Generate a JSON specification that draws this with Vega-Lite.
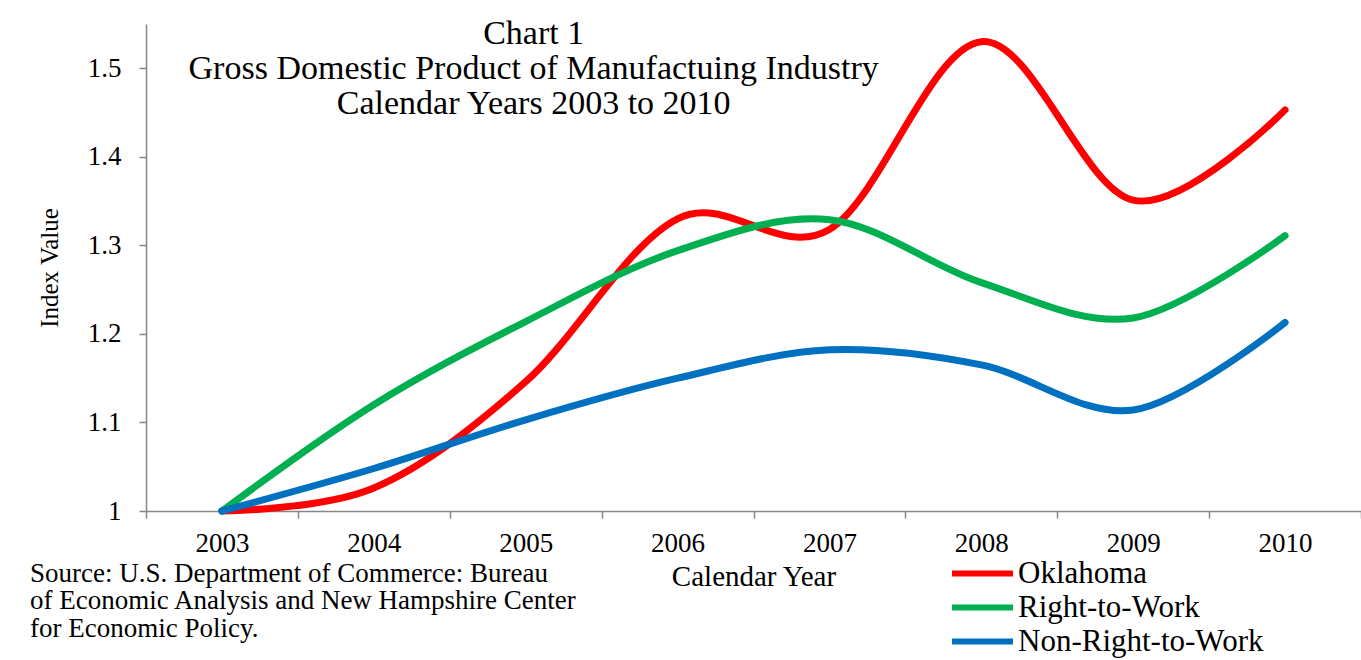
{
  "$schema": "https://vega.github.io/schema/vega-lite/v6.json",
  "width": 1215,
  "height": 487,
  "autosize": {"type": "none"},
  "padding": {"left": 146, "top": 24, "right": 0, "bottom": 149},
  "background": "white",
  "config": {"view": {"stroke": null}, "font": "Liberation Serif"},
  "layer": [
    {
      "data": {
        "values": [
          {"series": "Oklahoma", "year": "2003", "value": 1.0},
          {"series": "Oklahoma", "year": "2004", "value": 1.026},
          {"series": "Oklahoma", "year": "2005", "value": 1.146},
          {"series": "Oklahoma", "year": "2006", "value": 1.33},
          {"series": "Oklahoma", "year": "2007", "value": 1.318},
          {"series": "Oklahoma", "year": "2008", "value": 1.53},
          {"series": "Oklahoma", "year": "2009", "value": 1.351},
          {"series": "Oklahoma", "year": "2010", "value": 1.453},
          {"series": "Right-to-Work", "year": "2003", "value": 1.0},
          {"series": "Right-to-Work", "year": "2004", "value": 1.12},
          {"series": "Right-to-Work", "year": "2005", "value": 1.214},
          {"series": "Right-to-Work", "year": "2006", "value": 1.294},
          {"series": "Right-to-Work", "year": "2007", "value": 1.329},
          {"series": "Right-to-Work", "year": "2008", "value": 1.258},
          {"series": "Right-to-Work", "year": "2009", "value": 1.218},
          {"series": "Right-to-Work", "year": "2010", "value": 1.311},
          {"series": "Non-Right-to-Work", "year": "2003", "value": 1.0},
          {"series": "Non-Right-to-Work", "year": "2004", "value": 1.048},
          {"series": "Non-Right-to-Work", "year": "2005", "value": 1.103},
          {"series": "Non-Right-to-Work", "year": "2006", "value": 1.15},
          {"series": "Non-Right-to-Work", "year": "2007", "value": 1.182},
          {"series": "Non-Right-to-Work", "year": "2008", "value": 1.165},
          {"series": "Non-Right-to-Work", "year": "2009", "value": 1.114},
          {"series": "Non-Right-to-Work", "year": "2010", "value": 1.213}
        ]
      },
      "mark": {"type": "line", "interpolate": "cardinal", "tension": 0, "strokeWidth": 7, "strokeCap": "round", "strokeJoin": "round"},
      "encoding": {
        "x": {
          "field": "year",
          "type": "ordinal",
          "scale": {"type": "band", "paddingInner": 0, "paddingOuter": 0},
          "axis": {
            "title": "Calendar Year",
            "labelAngle": 0,
            "tickBand": "extent",
            "grid": false,
            "tickSize": 7,
            "tickColor": "#868686",
            "tickWidth": 1.5,
            "domainColor": "#868686",
            "domainWidth": 1.5,
            "labelFont": "Liberation Serif",
            "labelFontSize": 27,
            "labelColor": "black",
            "labelPadding": 12,
            "titleFont": "Liberation Serif",
            "titleFontSize": 29,
            "titleFontWeight": "normal",
            "titleColor": "black",
            "titlePadding": 6
          }
        },
        "y": {
          "field": "value",
          "type": "quantitative",
          "scale": {"domain": [1, 1.55], "nice": false, "zero": false},
          "axis": {
            "values": [1, 1.1, 1.2, 1.3, 1.4, 1.5],
            "format": ".1~f",
            "grid": false,
            "title": "Index Value",
            "titleFont": "Liberation Serif",
            "titleFontSize": 25,
            "titleFontWeight": "normal",
            "titleColor": "black",
            "titlePadding": 25,
            "labelFont": "Liberation Serif",
            "labelFontSize": 27,
            "labelColor": "black",
            "labelPadding": 18,
            "tickSize": 7,
            "tickColor": "#868686",
            "tickWidth": 1.5,
            "domainColor": "#868686",
            "domainWidth": 1.5
          }
        },
        "color": {
          "field": "series",
          "type": "nominal",
          "scale": {"domain": ["Oklahoma", "Right-to-Work", "Non-Right-to-Work"], "range": ["#FF0000", "#00B050", "#0070C0"]},
          "legend": {
            "title": null,
            "orient": "none",
            "legendX": 818,
            "legendY": 531,
            "direction": "vertical",
            "symbolType": "M-2,0H2",
            "symbolSize": 930,
            "symbolStrokeWidth": 6,
            "labelFont": "Liberation Serif",
            "labelFontSize": 31,
            "labelColor": "black",
            "labelOffset": 17,
            "labelLimit": 400,
            "rowPadding": 0,
            "padding": 0
          }
        }
      }
    },
    {
      "data": {"values": [{"label": "Chart 1\nGross Domestic Product of Manufactuing Industry\nCalendar Years 2003 to 2010"}]},
      "mark": {"type": "text", "lineBreak": "\n", "font": "Liberation Serif", "fontSize": 34, "lineHeight": 35, "baseline": "middle", "align": "center", "dx": 8, "color": "black"},
      "encoding": {
        "text": {"field": "label"},
        "x": {"datum": "2005", "type": "ordinal"},
        "y": {"datum": 1.539, "type": "quantitative"}
      }
    },
    {
      "data": {"values": [{"label": "Source: U.S. Department of Commerce: Bureau\nof Economic Analysis and New Hampshire Center\nfor Economic Policy."}]},
      "mark": {"type": "text", "lineBreak": "\n", "font": "Liberation Serif", "fontSize": 27, "lineHeight": 27.5, "baseline": "alphabetic", "align": "left", "dx": -192, "color": "black"},
      "encoding": {
        "text": {"field": "label"},
        "x": {"datum": "2003", "type": "ordinal"},
        "y": {"datum": 0.92, "type": "quantitative"}
      }
    }
  ]
}
